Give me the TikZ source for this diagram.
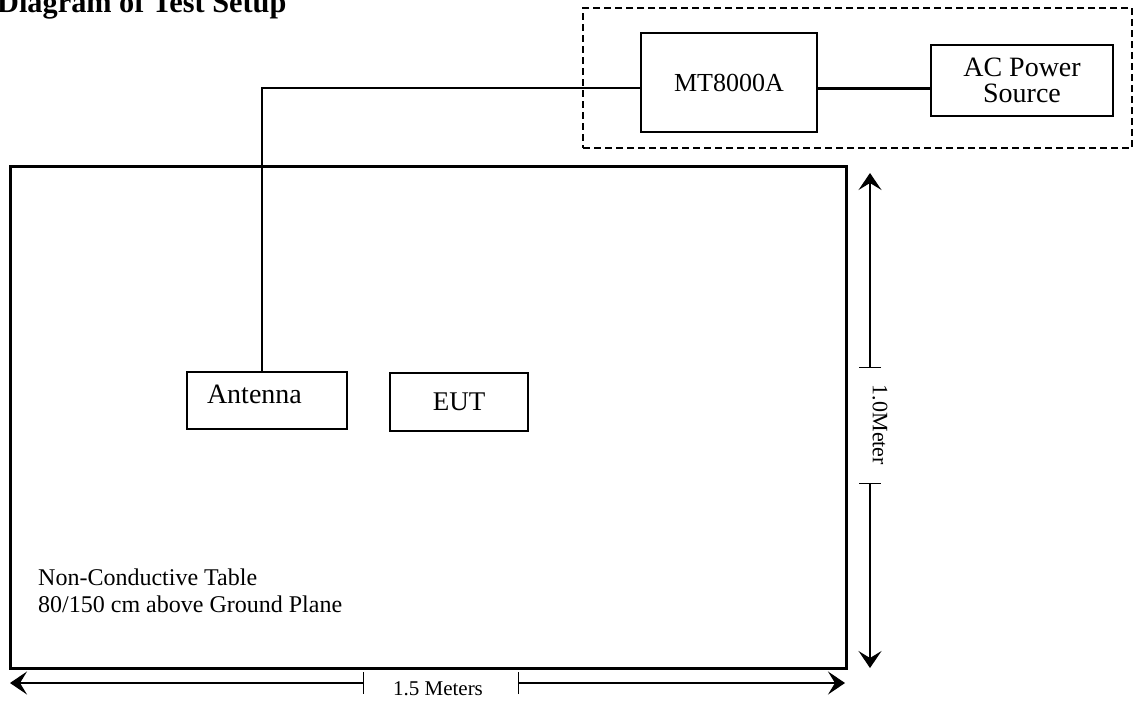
\documentclass[tikz,border=0pt]{standalone}
\usepackage{fontspec}
\setmainfont{Liberation Serif}
\usetikzlibrary{arrows.meta}

\begin{document}
\begin{tikzpicture}[x=1pt,y=-1pt]
        \tikzstyle{unit}=[draw=black,line width=1.5pt,inner sep=0pt,font=\fontsize{27}{27}\selectfont]
        \tikzstyle{cable}=[draw,line width=1.5pt]
        \tikzstyle{dim}=[draw,line width=1.2pt,{Bar[width=22pt]}-{Stealth[length=17pt,width=23pt,inset=7pt]}]
        \useasboundingbox (0,0) rectangle (1138,702);
        \node [anchor=base west,inner sep=0pt,font=\bfseries\fontsize{30.3}{30.3}\selectfont] (title) at (-3,12) {Diagram of Test Setup};
        % table and its note
        \node [draw=black,line width=3pt,inner sep=0pt,minimum width=836pt,minimum height=502pt] (table) at (428,417) {};
        \node [anchor=base west,align=left,inner sep=0pt,font=\fontsize{24}{27}\selectfont] (tablenote) at (38,612) {Non-Conductive Table\\80/150 cm above Ground Plane};
        % instruments outside the table
        \node [draw=black,dash pattern=on 7pt off 4pt,line width=1.5pt,inner sep=0pt,minimum width=549pt,minimum height=140pt] (bench) at (857.5,78) {};
        \begin{scope}
           \node [unit,minimum width=176pt,minimum height=99pt,font=\fontsize{26}{26}\selectfont] (mt) at (729,82.5) {MT8000A};
           \node [unit,minimum width=182pt,minimum height=71pt,align=center,font=\fontsize{28}{26}\selectfont] (acsrc) at (1022,80.5) {AC Power\\Source};
           \node [unit,minimum width=160pt,minimum height=57pt,inner xsep=20pt,text width=120pt,align=left,text depth=12pt,font=\fontsize{28}{28}\selectfont] (antenna) at (267,400.5) {Antenna};
           \node [unit,minimum width=138pt,minimum height=58pt] (eut) at (459,402) {EUT};
           \coordinate (bend) at (262,88);
           \path[cable] (antenna.north -| bend) -- (bend) -- (bend -| mt.west);
           \path[draw,line width=3pt] (mt.east |- bend) -- (bend -| acsrc.west);
        \end{scope}
        % dimensions
        \coordinate (vtop) at (870,173);
        \coordinate (vtick1) at (870,368);
        \coordinate (vtick2) at (870,483);
        \coordinate (vbot) at (870,668);
        \node [rotate=-90,inner sep=0pt,font=\fontsize{22}{22}\selectfont] (vlabel) at (880,425) {1.0Meter};
        \path[dim] (vtick1) -- (vtop);
        \path[dim] (vtick2) -- (vbot);
        \coordinate (hleft) at (10,683);
        \coordinate (htick1) at (364,683);
        \coordinate (htick2) at (518,683);
        \coordinate (hright) at (845,683);
        \node [anchor=base,inner sep=0pt,font=\fontsize{21}{21}\selectfont] (hlabel) at (438,695) {1.5 Meters};
        \path[dim] (htick1) -- (hleft);
        \path[dim] (htick2) -- (hright);
\end{tikzpicture}
\end{document}
